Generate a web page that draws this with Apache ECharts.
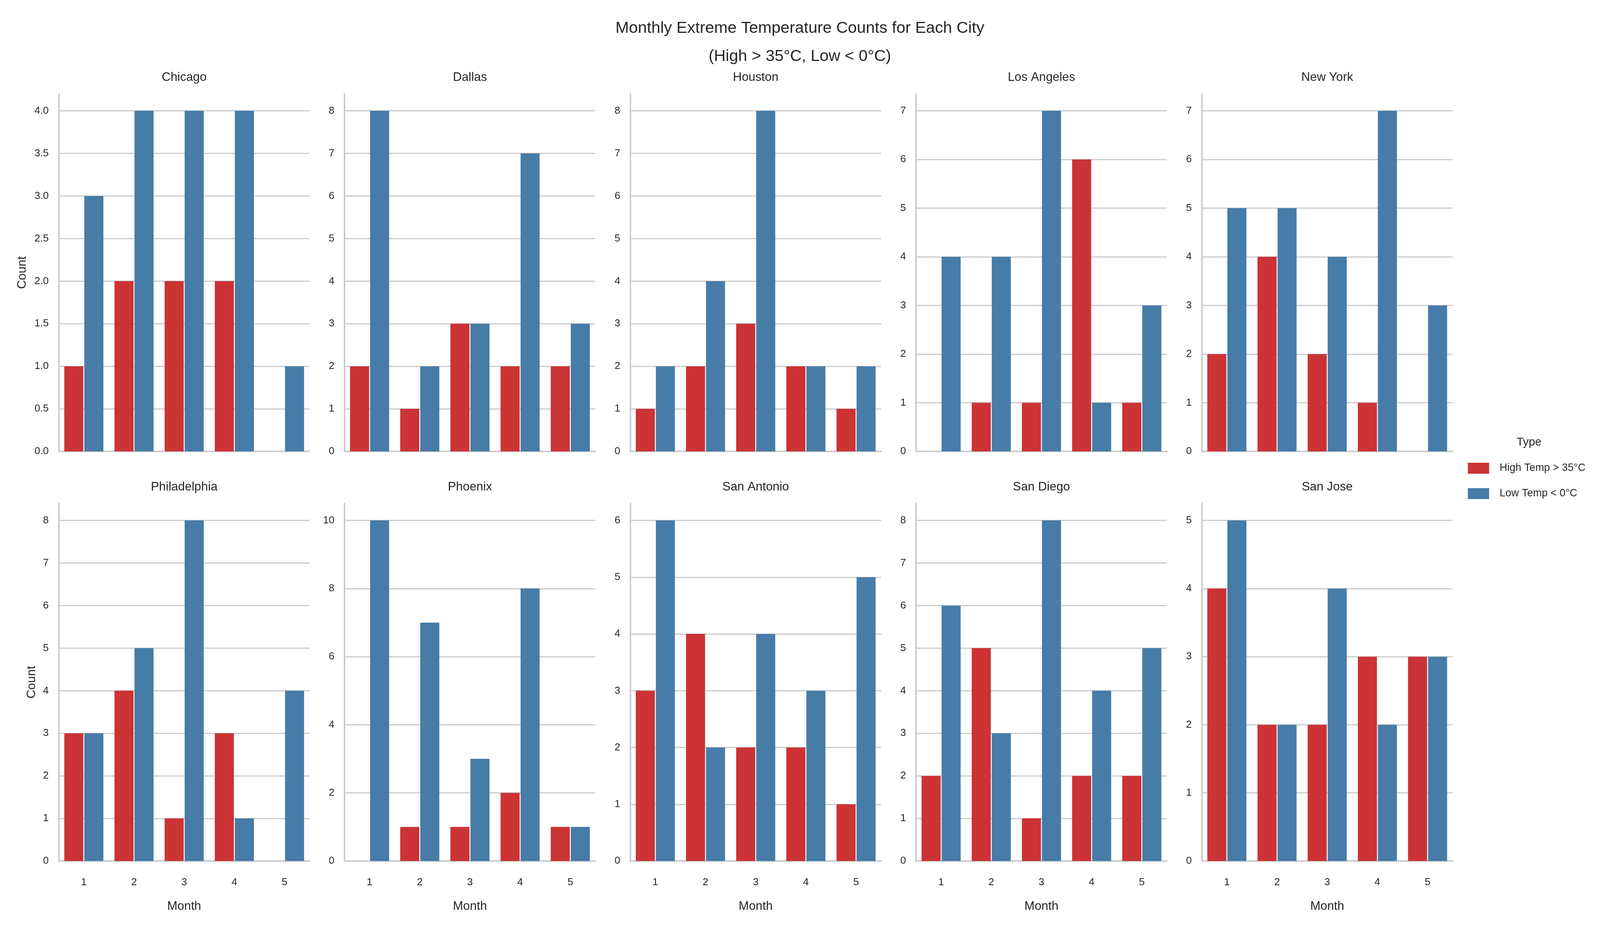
<!DOCTYPE html>
<html>
<head>
<meta charset="utf-8">
<script src="https://cdn.jsdelivr.net/npm/echarts@6/dist/echarts.min.js"></script>
<style>
html,body{margin:0;padding:0;background:#fff;overflow:hidden;}
#chart{width:100vw;height:100vh;}
</style>
</head>
<body>
<div id="chart"></div>
<script>
// ---- data ----
const cities = ["Chicago","Dallas","Houston","Los Angeles","New York","Philadelphia","Phoenix","San Antonio","San Diego","San Jose"];
const months = ["1","2","3","4","5"];
const seriesNames = ["High Temp > 35°C","Low Temp < 0°C"];
const highCounts = [
  [1,2,2,2,0],
  [2,1,3,2,2],
  [1,2,3,2,1],
  [0,1,1,6,1],
  [2,4,2,1,0],
  [3,4,1,3,0],
  [0,1,1,2,1],
  [3,4,2,2,1],
  [2,5,1,2,2],
  [4,2,2,3,3]
];
const lowCounts = [
  [3,4,4,4,1],
  [8,2,3,7,3],
  [2,4,8,2,2],
  [4,4,7,1,3],
  [5,5,4,7,3],
  [3,5,8,1,4],
  [10,7,3,8,1],
  [6,2,4,3,5],
  [6,3,8,4,5],
  [5,2,4,2,3]
];
const yTickStep = [0.5,1,1,1,1,1,2,1,1,1];
const yTickDecimals = [1,0,0,0,0,0,0,0,0,0];

// ---- layout / style (designed for 6537x2400, scaled to the window) ----
const el = document.getElementById("chart");
const W = el.clientWidth || 6537, H = el.clientHeight || 2400;
const sx = W / 6537, sy = H / 2400, fs = sx;
const X = v => v * sx, Y = v => v * sy, F = v => v * fs;

const colors = ["#cb3335","#477ca8"];
const textColor = "#262626";
const lineColor = "#cccccc";
const font = "Liberation Sans, Arial, sans-serif";
const gridLeft0 = 240, colStep = 1167.5, gridW = 1025;
const rowTops = [240, 1288], gridH = 915;
const countGap = [148, 110]; // distance from spine to "Count" centre per row

const grids = [], xAxes = [], yAxes = [], series = [], titles = [];

titles.push({
  text: "Monthly Extreme Temperature Counts for Each City\n(High > 35°C, Low < 0°C)",
  left: X(3268), top: Y(37), textAlign: "center", padding: 0,
  textStyle: {fontFamily: font, fontSize: F(66), lineHeight: Y(72), fontWeight: "normal", color: textColor}
});

cities.forEach((city, i) => {
  const r = Math.floor(i / 5), c = i % 5;
  const left = gridLeft0 + c * colStep;
  const top = rowTops[r];
  grids.push({left: X(left), top: Y(top), width: X(gridW), height: Y(gridH), containLabel: false});
  titles.push({
    text: city, left: X(left + gridW / 2), top: Y(top - 42) - F(50) / 2, textAlign: "center", padding: 0,
    textStyle: {fontFamily: font, fontSize: F(50), lineHeight: F(50), fontWeight: "normal", color: textColor}
  });
  const ymax = Math.max(...highCounts[i], ...lowCounts[i]) * 1.05;
  xAxes.push({
    type: "category", gridIndex: i, data: months,
    axisLine: {show: true, lineStyle: {color: lineColor, width: 4}},
    axisTick: {show: false},
    axisLabel: {show: r === 1, margin: Y(55) - F(42) / 2, fontFamily: font, fontSize: F(42), color: textColor},
    name: r === 1 ? "Month" : "", nameLocation: "middle", nameGap: Y(117) - F(50) / 2,
    nameTextStyle: {fontFamily: font, fontSize: F(50), color: textColor},
    splitLine: {show: false}
  });
  const dec = yTickDecimals[i];
  yAxes.push({
    type: "value", gridIndex: i, min: 0, max: ymax, interval: yTickStep[i],
    axisLine: {show: true, lineStyle: {color: lineColor, width: 4}},
    axisTick: {show: false},
    axisLabel: {margin: X(41), fontFamily: font, fontSize: F(42), color: textColor, showMaxLabel: false,
      formatter: v => v.toFixed(dec)},
    splitLine: {show: true, showMaxLine: false, lineStyle: {color: lineColor, width: 3}},
    name: c === 0 ? "Count" : "", nameLocation: "middle", nameGap: X(countGap[r]) - F(50) / 2,
    nameTextStyle: {fontFamily: font, fontSize: F(50), color: textColor}
  });
  [highCounts[i], lowCounts[i]].forEach((vals, k) => {
    series.push({
      type: "bar", name: seriesNames[k], xAxisIndex: i, yAxisIndex: i,
      data: vals, barWidth: "38%", barGap: "5%",
      itemStyle: {color: colors[k]}, animation: false, silent: true
    });
  });
});

titles.push({
  text: "Type", left: X(6247), top: Y(1132) - F(47) / 2, textAlign: "center", padding: 0,
  textStyle: {fontFamily: font, fontSize: F(47), lineHeight: F(47), fontWeight: "normal", color: textColor}
});

const chart = echarts.init(el, null, {renderer: "canvas"});
chart.setOption({
  backgroundColor: "#ffffff",
  animation: false,
  title: titles,
  grid: grids,
  xAxis: xAxes,
  yAxis: yAxes,
  series: series,
  legend: {
    data: seriesNames, orient: "vertical", left: X(5997), top: Y(1184), padding: 0,
    icon: "rect", itemWidth: X(87), itemHeight: Y(28), itemGap: Y(37),
    textStyle: {fontFamily: font, fontSize: F(43), lineHeight: F(43), color: textColor, padding: [0,0,0,X(35)]},
    selectedMode: false
  }
});
</script>
</body>
</html>
